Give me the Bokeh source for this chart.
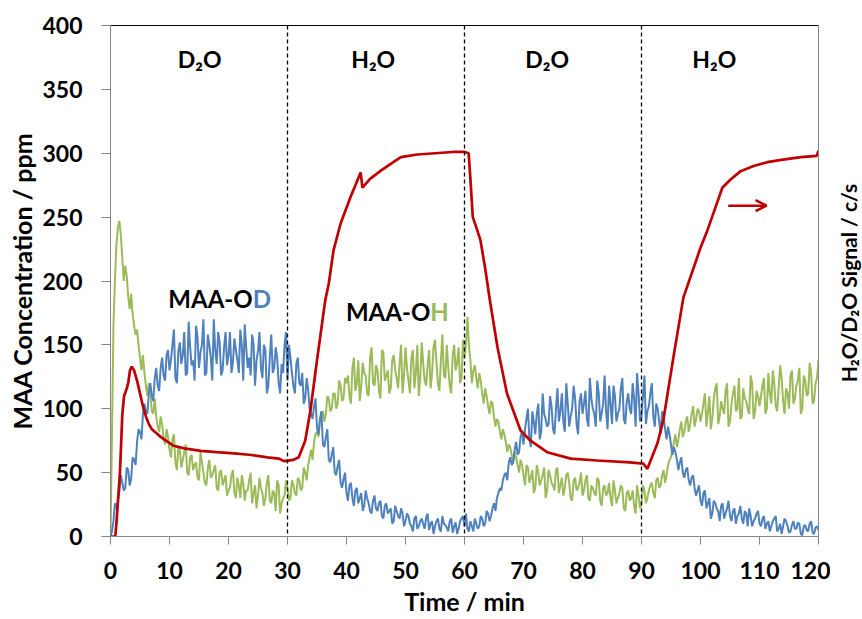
import numpy as np
from bokeh.plotting import figure
from bokeh.layouts import row
from bokeh.models import Range1d, LinearAxis, FixedTicker, Label, Span, Arrow, OpenHead
from bokeh.embed import file_html
from bokeh.resources import INLINE

# ---------------- data ----------------
time = np.arange(0, 120.25, 0.5)        # samples at whole and half minutes
time_mid = np.arange(0.25, 120.0, 0.5)  # samples in between

maa_od = [0,
    12, 22, 35, 42, 38, 52, 45, 60, 74, 82, 96, 98, 112, 110, 124, 118, 132, 126, 142, 130,
    150, 124, 145, 135, 160, 128, 148, 138, 165, 132, 150, 126, 158, 140, 170, 135, 152, 130, 160, 142,
    128, 155, 138, 162, 122, 148, 140, 158, 118, 145, 132, 150, 112, 140, 128, 148, 120, 135, 150, 122,
    140, 118, 135, 120, 128, 108, 115, 96, 102, 85, 92, 72, 78, 60, 64, 50, 55, 42, 45, 34,
    40, 30, 36, 26, 34, 24, 30, 20, 28, 22, 26, 16, 24, 18, 22, 12, 20, 14, 18, 12,
    16, 8, 14, 6, 12, 10, 15, 5, 12, 8, 14, 4, 10, 7, 12, 3, 11, 6, 14, 8,
    6, 12, 4, 10, 8, 14, 10, 18, 16, 26, 30, 38, 44, 50, 58, 56, 68, 64, 78, 72,
    92, 76, 98, 80, 104, 82, 96, 86, 110, 84, 100, 90, 112, 82, 104, 94, 118, 88, 106, 96,
    114, 86, 108, 96, 122, 90, 104, 98, 118, 88, 110, 96, 116, 92, 106, 100, 120, 86, 112, 94,
    126, 98, 112, 94, 104, 90, 98, 84, 86, 72, 70, 60, 58, 50, 52, 44, 46, 38, 36, 28,
    34, 22, 30, 18, 26, 20, 24, 14, 22, 16, 20, 10, 18, 14, 20, 8, 16, 12, 18, 10,
    14, 6, 12, 8, 14, 4, 10, 8, 12, 3, 9, 6, 11, 2, 8, 5, 10, 3, 7, 5]

maa_od_mid = [
    4, 26, 28, 48, 36, 54, 40, 62, 56, 84, 76, 104, 96, 120, 106, 132, 114, 140, 122, 146,
    138, 162, 120, 152, 142, 126, 168, 134, 122, 156, 144, 170, 128, 150, 122, 146, 160, 126, 148, 134,
    160, 136, 146, 128, 150, 166, 132, 126, 150, 138, 160, 124, 146, 118, 158, 132, 140, 112, 128, 160,
    150, 128, 112, 140, 118, 104, 124, 100, 92, 108, 80, 98, 70, 84, 58, 70, 48, 60, 38, 50,
    28, 42, 24, 38, 30, 20, 36, 26, 18, 32, 20, 28, 14, 26, 20, 10, 24, 16, 22, 8,
    18, 10, 4, 16, 8, 14, 6, 18, 10, 2, 12, 6, 16, 9, 4, 14, 8, 2, 12, 16,
    18, 4, 8, 14, 6, 16, 8, 20, 12, 22, 20, 34, 36, 48, 44, 62, 58, 74, 66, 82,
    84, 100, 70, 90, 96, 76, 112, 92, 88, 102, 80, 116, 98, 90, 120, 86, 100, 108, 80, 112,
    104, 92, 124, 100, 86, 112, 96, 126, 84, 104, 118, 90, 100, 124, 88, 112, 96, 108, 128, 90,
    110, 88, 102, 120, 86, 100, 80, 94, 76, 80, 64, 66, 52, 62, 46, 54, 40, 48, 32, 40,
    24, 36, 26, 14, 28, 22, 12, 26, 18, 28, 12, 22, 16, 24, 10, 18, 22, 8, 14, 20,
    8, 16, 10, 4, 12, 16, 6, 2, 14, 8, 4, 12, 6, 10, 1, 9, 4, 12, 2, 8]

maa_oh = [0,
    165, 228, 247, 218, 212, 188, 190, 165, 162, 140, 142, 118, 120, 98, 108, 86, 94, 76, 84, 68,
    76, 58, 70, 54, 66, 50, 62, 52, 58, 44, 58, 42, 54, 46, 52, 38, 50, 40, 48, 36,
    48, 34, 46, 30, 42, 36, 44, 26, 40, 32, 38, 24, 42, 28, 36, 20, 40, 26, 32, 38,
    30, 40, 32, 44, 38, 50, 56, 68, 74, 82, 90, 98, 96, 108, 100, 112, 104, 118, 108, 120,
    110, 132, 114, 138, 118, 128, 112, 140, 120, 134, 114, 146, 122, 130, 116, 142, 124, 136, 112, 148,
    122, 140, 116, 150, 124, 136, 118, 146, 128, 154, 120, 138, 126, 150, 118, 142, 130, 148, 124, 140,
    172, 138, 130, 124, 128, 112, 116, 102, 106, 94, 92, 82, 84, 74, 72, 64, 66, 56, 60, 48,
    56, 42, 52, 38, 50, 44, 54, 36, 48, 40, 52, 34, 46, 38, 50, 30, 44, 36, 42, 32,
    44, 30, 40, 34, 46, 28, 38, 32, 42, 24, 36, 30, 40, 22, 34, 28, 36, 18, 32, 26,
    36, 30, 40, 34, 44, 38, 48, 42, 56, 62, 74, 70, 84, 78, 90, 82, 96, 86, 100, 90,
    104, 86, 110, 92, 116, 88, 106, 96, 120, 90, 112, 98, 124, 94, 108, 100, 126, 92, 114, 102,
    118, 96, 128, 104, 120, 98, 134, 106, 116, 100, 130, 108, 122, 96, 126, 110, 136, 104, 120, 138]

maa_oh_mid = [
    80, 200, 242, 236, 200, 204, 178, 174, 158, 150, 130, 128, 110, 112, 96, 94, 82, 88, 72, 78,
    62, 80, 52, 68, 60, 72, 48, 64, 56, 46, 66, 50, 40, 60, 48, 56, 36, 52, 44, 32,
    38, 52, 30, 40, 48, 28, 36, 50, 34, 22, 46, 34, 30, 48, 26, 34, 44, 18, 30, 44,
    28, 44, 34, 46, 36, 54, 44, 62, 60, 80, 78, 96, 90, 110, 98, 112, 100, 122, 106, 124,
    126, 104, 140, 120, 106, 136, 126, 110, 148, 118, 130, 108, 144, 126, 112, 138, 130, 116, 150, 126,
    132, 112, 146, 128, 110, 152, 122, 134, 116, 148, 136, 114, 158, 124, 132, 112, 150, 136, 120, 154,
    150, 150, 120, 134, 116, 122, 104, 110, 96, 104, 86, 90, 76, 80, 66, 70, 58, 62, 50, 56,
    40, 54, 46, 34, 56, 40, 48, 30, 52, 42, 36, 54, 40, 32, 48, 42, 28, 46, 38, 50,
    36, 48, 28, 38, 32, 44, 24, 40, 34, 30, 44, 26, 34, 38, 20, 36, 30, 24, 40, 22,
    40, 26, 36, 42, 30, 46, 40, 52, 48, 60, 68, 80, 76, 90, 82, 94, 88, 102, 92, 98,
    96, 112, 98, 84, 108, 120, 94, 100, 114, 86, 104, 118, 100, 92, 116, 106, 96, 120, 98, 110,
    110, 124, 100, 112, 130, 102, 116, 124, 96, 112, 126, 104, 118, 132, 100, 122, 112, 128, 106, 124]

signal_t = [0, 0.8, 1.0, 1.3, 1.6, 2.0, 2.3, 2.7, 3.0, 3.3, 3.6, 4.0, 4.5, 5.0, 5.5, 6.0, 6.5, 7.0, 8.0, 8.5,
            10.7, 12.5, 15.3, 18, 20.9, 23.5, 26.6, 28.5, 29.4, 31.0, 31.9, 33.0, 33.9, 35.0, 36.4,
            37.0, 37.8, 39.0, 40.7, 42.4, 42.7, 44.0, 46.0, 49.2, 52.0, 55.0, 58.0, 60.0, 60.7, 61.0,
            61.4, 62.0, 62.7, 63.5, 64.4, 65.6, 67.2, 69.5, 71.2, 74.0, 78.0, 82.5, 88.0, 90.3, 91.0,
            92.7, 93.7, 95.4, 97.1, 100.0, 101.2, 103.7, 105.0, 106.8, 109.0, 111.3, 114.0, 117.0, 119.7, 120.0]
signal_v = [0, 0, 10, 30, 50, 95, 110, 115, 120, 130, 133, 130, 122, 112, 102, 94, 88, 84, 80, 78,
            71, 69, 67, 66, 65, 64, 62, 61, 59, 60, 62, 75, 99, 138, 185,
            198, 224, 245, 266, 285, 273, 280, 287, 297, 299, 300, 301, 301, 300, 280,
            250, 242, 232, 210, 182, 148, 112, 83, 75, 66, 61, 59.5, 58, 57, 53,
            73, 91, 140, 187, 226, 240, 273, 279, 286, 290, 293, 295, 297, 298, 302]

x_ticks = list(range(0, 121, 10))
y_ticks = list(range(0, 401, 50))
switch_times = [30, 60, 90]
phase_labels = ["D₂O", "H₂O", "D₂O", "H₂O"]
phase_label_x = [11.4, 40.8, 70.3, 98.6]

BLUE = "#4F81BD"
GREEN = "#9BBB59"
RED = "#C00000"
GRAY = "#868686"
FONT = "Lato"

# merge the two sampling sets into time order
all_t = np.concatenate([time, time_mid])
order = np.argsort(all_t)
t_sorted = all_t[order]
od_sorted = np.concatenate([maa_od, maa_od_mid])[order]
oh_sorted = np.concatenate([maa_oh, maa_oh_mid])[order]

p = figure(width=830, height=619, output_backend="svg", toolbar_location=None,
           x_range=Range1d(0, 120), y_range=Range1d(0, 400),
           min_border_left=110, min_border_right=12, min_border_top=25, min_border_bottom=83)
p.grid.visible = False
p.outline_line_color = None
p.background_fill_color = "white"
p.border_fill_color = "white"

for ax, ticks in ((p.xaxis[0], x_ticks), (p.yaxis[0], y_ticks)):
    ax.ticker = FixedTicker(ticks=ticks)
    ax.axis_line_color = GRAY
    ax.axis_line_width = 1
    ax.major_tick_line_color = GRAY
    ax.major_tick_in = 0
    ax.minor_tick_line_color = None
    ax.major_label_text_font = FONT
    ax.major_label_text_font_style = "bold"
    ax.major_label_text_font_size = "23px"
    ax.major_label_text_color = "black"
    ax.axis_label_text_font = FONT
    ax.axis_label_text_font_style = "bold"
    ax.axis_label_text_font_size = "25px"
    ax.axis_label_text_color = "black"

p.xaxis.axis_label = "Time / min"
p.xaxis.major_tick_out = 8
p.xaxis.major_label_standoff = 17
p.xaxis.axis_label_standoff = 4
p.yaxis.axis_label = "MAA Concentration / ppm"
p.yaxis.major_tick_out = 9
p.yaxis.major_label_standoff = 19
p.yaxis.axis_label_standoff = 2

top = LinearAxis(ticker=FixedTicker(ticks=[]), axis_line_color="black", axis_line_width=1.2,
                 major_tick_line_color=None, minor_tick_line_color=None,
                 major_tick_out=0, major_label_standoff=0)
p.add_layout(top, "above")
right = LinearAxis(ticker=FixedTicker(ticks=[]), axis_line_color=GRAY,
                   major_tick_line_color=None, minor_tick_line_color=None,
                   major_tick_out=0, major_label_standoff=0)
p.add_layout(right, "right")

for t in switch_times:
    p.add_layout(Span(location=t, dimension="height", line_color="black",
                      line_dash="4 3", line_width=1.3))

p.line(t_sorted, oh_sorted, line_color=GREEN, line_width=2.0)
p.line(t_sorted, od_sorted, line_color=BLUE, line_width=2.0)
p.line(signal_t, signal_v, line_color=RED, line_width=2.7)

p.add_layout(Arrow(end=OpenHead(size=11, line_color=RED, line_width=2.5),
                   x_start=104.7, y_start=259, x_end=111.2, y_end=259,
                   line_color=RED, line_width=2.5))

for txt, xx in zip(phase_labels, phase_label_x):
    p.add_layout(Label(x=xx, y=374, text=txt, text_font=FONT, text_font_style="bold",
                       text_font_size="23px", text_align="left", text_baseline="alphabetic",
                       text_color="black"))

def two_tone(x, y, head, tail, color):
    p.add_layout(Label(x=x, y=y, text=head, text_font=FONT, text_font_style="bold",
                       text_font_size="24px", text_align="right", text_baseline="alphabetic",
                       text_color="black"))
    p.add_layout(Label(x=x, y=y, text=tail, text_font=FONT, text_font_style="bold",
                       text_font_size="24px", text_align="left", text_baseline="alphabetic",
                       text_color=color))

two_tone(24.1, 186.3, "MAA-O", "D", BLUE)
two_tone(54.2, 176.0, "MAA-O", "H", GREEN)

# narrow strip on the right carrying the secondary-axis title (reads bottom to top)
side = figure(width=32, height=619, output_backend="svg", toolbar_location=None,
              x_range=Range1d(0, 32), y_range=Range1d(0, 619),
              x_axis_type=None, y_axis_type=None,
              min_border_left=0, min_border_right=0, min_border_top=0, min_border_bottom=0)
side.grid.visible = False
side.outline_line_color = None
side.border_fill_color = "white"
side.add_layout(Label(x=18, y=307, text="H₂O/D₂O Signal / c/s", angle=np.pi / 2,
                      text_font=FONT, text_font_style="bold", text_font_size="21px",
                      text_align="center", text_baseline="middle", text_color="black"))

layout = row(p, side, spacing=0)
open("out.html", "w").write(file_html(layout, INLINE))
